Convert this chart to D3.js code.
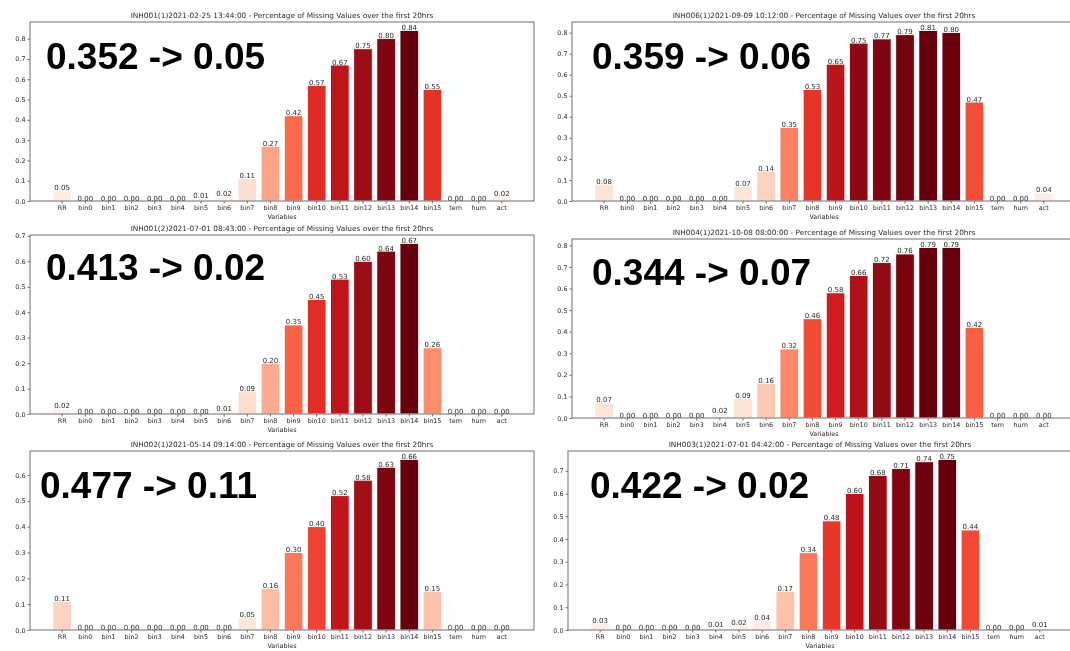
<!DOCTYPE html>
<html>
<head>
<meta charset="utf-8">
<script src="https://cdn.jsdelivr.net/npm/d3@7"></script>
<style>
  html, body { margin: 0; padding: 0; background: #ffffff; }
  svg { display: block; will-change: transform; }
  text { -webkit-font-smoothing: antialiased; }
</style>
</head>
<body>
<svg id="chart" width="1070" height="651"></svg>
<script>
// Variables shown on every panel
const categories = ["RR", "bin0", "bin1", "bin2", "bin3", "bin4", "bin5", "bin6", "bin7", "bin8",
  "bin9", "bin10", "bin11", "bin12", "bin13", "bin14", "bin15", "tem", "hum", "act"];

// Share of missing values per variable, one array per recording
const inh001_1 = [0.05, 0.00, 0.00, 0.00, 0.00, 0.00, 0.01, 0.02, 0.11, 0.27, 0.42, 0.57, 0.67, 0.75, 0.80, 0.84, 0.55, 0.00, 0.00, 0.02];
const inh006_1 = [0.08, 0.00, 0.00, 0.00, 0.00, 0.00, 0.07, 0.14, 0.35, 0.53, 0.65, 0.75, 0.77, 0.79, 0.81, 0.80, 0.47, 0.00, 0.00, 0.04];
const inh001_2 = [0.02, 0.00, 0.00, 0.00, 0.00, 0.00, 0.00, 0.01, 0.09, 0.20, 0.35, 0.45, 0.53, 0.60, 0.64, 0.67, 0.26, 0.00, 0.00, 0.00];
const inh004_1 = [0.07, 0.00, 0.00, 0.00, 0.00, 0.02, 0.09, 0.16, 0.32, 0.46, 0.58, 0.66, 0.72, 0.76, 0.79, 0.79, 0.42, 0.00, 0.00, 0.00];
const inh002_1 = [0.11, 0.00, 0.00, 0.00, 0.00, 0.00, 0.00, 0.00, 0.05, 0.16, 0.30, 0.40, 0.52, 0.58, 0.63, 0.66, 0.15, 0.00, 0.00, 0.00];
const inh003_1 = [0.03, 0.00, 0.00, 0.00, 0.00, 0.01, 0.02, 0.04, 0.17, 0.34, 0.48, 0.60, 0.68, 0.71, 0.74, 0.75, 0.44, 0.00, 0.00, 0.01];

const titles = [
  "INH001(1)2021-02-25 13:44:00 - Percentage of Missing Values over the first 20hrs",
  "INH006(1)2021-09-09 10:12:00 - Percentage of Missing Values over the first 20hrs",
  "INH001(2)2021-07-01 08:43:00 - Percentage of Missing Values over the first 20hrs",
  "INH004(1)2021-10-08 08:00:00 - Percentage of Missing Values over the first 20hrs",
  "INH002(1)2021-05-14 09:14:00 - Percentage of Missing Values over the first 20hrs",
  "INH003(1)2021-07-01 04:42:00 - Percentage of Missing Values over the first 20hrs"
];

// Overall missing share before -> after
const summaries = ["0.352 -> 0.05", "0.359 -> 0.06", "0.413 -> 0.02", "0.344 -> 0.07", "0.477 -> 0.11", "0.422 -> 0.02"];

// Y tick labels per panel
const yTicks8 = ["0.0", "0.1", "0.2", "0.3", "0.4", "0.5", "0.6", "0.7", "0.8"];
const yTicks7 = ["0.0", "0.1", "0.2", "0.3", "0.4", "0.5", "0.6", "0.7"];
const yTicks6 = ["0.0", "0.1", "0.2", "0.3", "0.4", "0.5", "0.6"];

const series = [inh001_1, inh006_1, inh001_2, inh004_1, inh002_1, inh003_1];
const tickSets = [yTicks8, yTicks8, yTicks7, yTicks8, yTicks6, yTicks7];

// Panel frames (pixel layout) and offsets of the big summary text
const frames = [
  { left: 30,  top: 22,  bottom: 201, tx: 16, ty: 47 },
  { left: 572, top: 22,  bottom: 201, tx: 20, ty: 47 },
  { left: 30,  top: 235, bottom: 414, tx: 16, ty: 45 },
  { left: 572, top: 239, bottom: 418, tx: 20, ty: 46 },
  { left: 30,  top: 451, bottom: 630, tx: 10, ty: 47 },
  { left: 568, top: 451, bottom: 630, tx: 22, ty: 47 }
];
const frameWidth = 504;

// Reds ramp, linear between the ColorBrewer stops
const redStops = ["#fff5f0", "#fee0d2", "#fcbba1", "#fc9272", "#fb6a4a", "#ef3b2c", "#cb181d", "#a50f15", "#67000d"];
const reds = d3.scaleLinear()
  .domain(d3.range(redStops.length).map(i => i / (redStops.length - 1)))
  .range(redStops)
  .interpolate(d3.interpolateRgb)
  .clamp(true);

const svg = d3.select("#chart");
svg.append("rect").attr("width", 1070).attr("height", 651).attr("fill", "#ffffff");

const axisColor = "#6e6e6e";
const textColor = "#2a2a2a";
const smallFont = "DejaVu Sans, sans-serif";

series.forEach((values, p) => {
  const f = frames[p];
  const right = f.left + frameWidth;
  const maxV = d3.max(values);

  const x = d3.scaleBand()
    .domain(categories)
    .range([f.left, right])
    .paddingInner(0.2)
    .paddingOuter(0.99);

  const y = d3.scaleLinear()
    .domain([0, maxV * 1.05])
    .range([f.bottom, f.top]);

  const g = svg.append("g");

  // bars
  g.selectAll("rect.bar")
    .data(values)
    .join("rect")
    .attr("class", "bar")
    .attr("x", (d, i) => x(categories[i]))
    .attr("width", x.bandwidth())
    .attr("y", d => y(d))
    .attr("height", d => y(0) - y(d))
    .attr("fill", d => reds(d / maxV))
    .attr("stroke", "#ffffff")
    .attr("stroke-width", 0.8);

  // value labels
  g.selectAll("text.val")
    .data(values)
    .join("text")
    .attr("class", "val")
    .attr("x", (d, i) => x(categories[i]) + x.bandwidth() / 2)
    .attr("y", d => y(d) - 0.5)
    .attr("text-anchor", "middle")
    .attr("font-family", smallFont)
    .attr("font-size", 7)
    .attr("fill", textColor)
    .text(d => d.toFixed(2));

  // x axis
  const xAxis = g.append("g")
    .attr("transform", `translate(0,${f.bottom})`)
    .call(d3.axisBottom(x).tickSize(2.5).tickPadding(1.5));
  xAxis.select(".domain").remove();
  xAxis.selectAll(".tick line").attr("stroke", axisColor);
  xAxis.selectAll(".tick text")
    .attr("font-family", smallFont)
    .attr("font-size", 6.4)
    .attr("fill", textColor);

  // y axis
  const tickVals = tickSets[p].map(Number);
  const yAxis = g.append("g")
    .attr("transform", `translate(${f.left},0)`)
    .call(d3.axisLeft(y).tickValues(tickVals).tickFormat((d, i) => tickSets[p][i]).tickSize(2.5).tickPadding(2));
  yAxis.select(".domain").remove();
  yAxis.selectAll(".tick line").attr("stroke", axisColor);
  yAxis.selectAll(".tick text")
    .attr("font-family", smallFont)
    .attr("font-size", 6.4)
    .attr("fill", textColor);

  // frame
  g.append("rect")
    .attr("x", f.left)
    .attr("y", f.top)
    .attr("width", frameWidth)
    .attr("height", f.bottom - f.top)
    .attr("fill", "none")
    .attr("stroke", axisColor)
    .attr("stroke-width", 1);

  // title
  g.append("text")
    .attr("x", f.left + frameWidth / 2)
    .attr("y", f.top - 4)
    .attr("text-anchor", "middle")
    .attr("font-family", smallFont)
    .attr("font-size", 7.35)
    .attr("fill", textColor)
    .text(titles[p]);

  // x axis label
  g.append("text")
    .attr("x", f.left + frameWidth / 2)
    .attr("y", f.bottom + 18)
    .attr("text-anchor", "middle")
    .attr("font-family", smallFont)
    .attr("font-size", 6.4)
    .attr("fill", textColor)
    .text("Variables");

  // summary annotation
  g.append("text")
    .attr("x", f.left + f.tx)
    .attr("y", f.top + f.ty)
    .attr("font-family", "Liberation Sans, Arial, sans-serif")
    .attr("font-weight", "bold")
    .attr("font-size", 37)
    .attr("fill", "#000000")
    .text(summaries[p]);
});
</script>
</body>
</html>
